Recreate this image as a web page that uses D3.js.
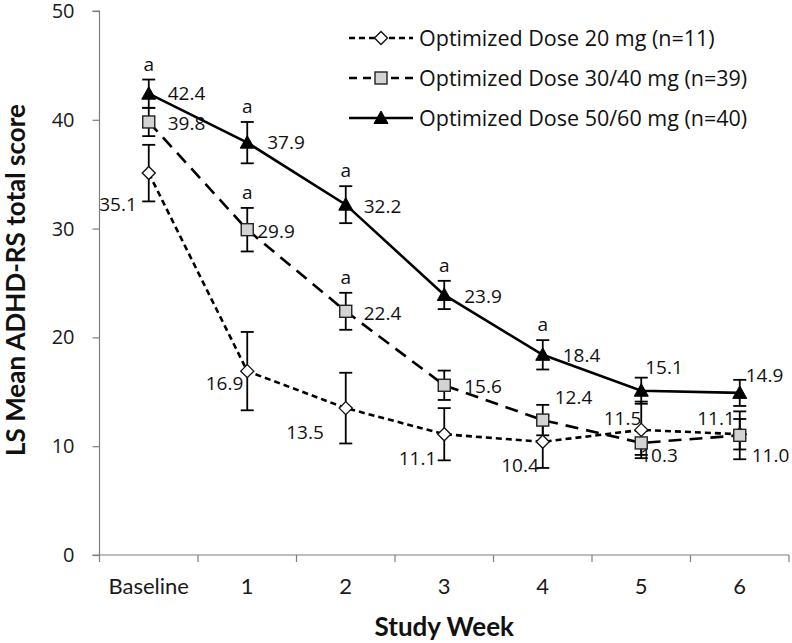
<!DOCTYPE html>
<html>
<head>
<meta charset="utf-8">
<script src="https://cdn.jsdelivr.net/npm/d3@7"></script>
<style>
  html, body { margin: 0; padding: 0; background: #fff; }
  svg { display: block; }
</style>
</head>
<body>
<div id="chart"></div>
<script>
// ---------------- data ----------------
const categories = ["Baseline", "1", "2", "3", "4", "5", "6"];
const yTicks = [0, 10, 20, 30, 40, 50];
const seriesNames = [
  "Optimized Dose 20 mg (n=11)",
  "Optimized Dose 30/40 mg (n=39)",
  "Optimized Dose 50/60 mg (n=40)"
];
const dose20 = [35.1, 16.9, 13.5, 11.1, 10.4, 11.5, 11.1];
const dose20SE = [2.6, 3.6, 3.25, 2.4, 2.4, 2.6, 1.4];
const dose3040 = [39.8, 29.9, 22.4, 15.6, 12.4, 10.3, 11.0];
const dose3040SE = [1.3, 2.0, 1.7, 1.35, 1.4, 1.1, 2.2];
const dose5060 = [42.4, 37.9, 32.2, 23.9, 18.4, 15.1, 14.9];
const dose5060SE = [1.3, 1.9, 1.7, 1.3, 1.35, 1.2, 1.2];
const sig3040 = ["", "a", "a", "", "", "", ""];
const sig5060 = ["a", "a", "a", "a", "a", "", ""];
const xTitle = "Study Week";
const yTitle = "LS Mean ADHD-RS total score";

// ---------------- layout / style ----------------
const W = 792, H = 643;
const plot = { left: 99.5, right: 789, top: 11, bottom: 555 };
const numFont = "'Open Sans', 'DejaVu Sans', sans-serif";
const calFont = "Lato, 'Open Sans', sans-serif";

// label placement offsets [dx, dy(center), anchor] per point
const place20 = [[-12, 31, "end"], [-4, 12, "end"], [-22, 24, "end"], [-8, 24, "end"], [-4, 23, "end"], [0, -12, "end"], [-5, -16, "end"]];
const place3040 = [[19, 1, "start"], [10, 1, "start"], [18, 2, "start"], [20, 1, "start"], [12, -23, "start"], [-1, 12, "start"], [12, 20, "start"]];
const place5060 = [[19, -1, "start"], [20, 0, "start"], [18, 1, "start"], [20, 1, "start"], [20, 0, "start"], [4, -24, "start"], [6, -18, "start"]];

const series = [
  { name: seriesNames[0], values: dose20, se: dose20SE, sig: null, place: place20, dash: "6,4", marker: "diamond" },
  { name: seriesNames[1], values: dose3040, se: dose3040SE, sig: sig3040, place: place3040, dash: "13,8", marker: "square" },
  { name: seriesNames[2], values: dose5060, se: dose5060SE, sig: sig5060, place: place5060, dash: null, marker: "triangle" }
];

const svg = d3.select("#chart").append("svg")
  .attr("width", W).attr("height", H)
  .attr("viewBox", `0 0 ${W} ${H}`);

const x = d3.scaleBand().domain(categories).range([plot.left, plot.right]).padding(0);
const y = d3.scaleLinear().domain([0, 50]).range([plot.bottom, plot.top]);
const cx = c => x(c) + x.bandwidth() / 2;

// ---------------- axes ----------------
const axisColor = "#7f7f7f";
const yAxis = svg.append("g")
  .attr("transform", `translate(${plot.left},0)`)
  .call(d3.axisLeft(y).tickValues(yTicks).tickSize(7).tickPadding(18).tickFormat(d3.format("d")));
yAxis.select(".domain").attr("stroke", axisColor).attr("stroke-width", 1.2).attr("d", `M-7,${plot.top}H0V${plot.bottom}H-7`);
yAxis.selectAll(".tick line").attr("stroke", axisColor).attr("stroke-width", 1.2);
yAxis.selectAll(".tick text")
  .attr("font-family", numFont).attr("font-size", 20).attr("fill", "#1a1a1a");

const xAxis = svg.append("g")
  .attr("transform", `translate(0,${plot.bottom})`);
xAxis.append("line")
  .attr("x1", plot.left).attr("x2", plot.right)
  .attr("stroke", axisColor).attr("stroke-width", 1.2);
const boundaries = categories.map(c => x(c)).concat([plot.right]);
xAxis.selectAll("line.tk").data(boundaries).join("line").attr("class", "tk")
  .attr("x1", d => d).attr("x2", d => d).attr("y1", 0).attr("y2", 7)
  .attr("stroke", axisColor).attr("stroke-width", 1.2);
xAxis.selectAll("text").data(categories).join("text")
  .attr("x", d => cx(d)).attr("y", 39)
  .attr("text-anchor", "middle")
  .attr("font-family", calFont).attr("font-size", 22).attr("fill", "#1a1a1a")
  .text(d => d);

svg.append("text")
  .attr("x", (plot.left + plot.right) / 2).attr("y", 636)
  .attr("text-anchor", "middle")
  .attr("font-family", calFont).attr("font-weight", "bold").attr("font-size", 26)
  .attr("fill", "#111")
  .text(xTitle);

svg.append("text")
  .attr("transform", `translate(25,280) rotate(-90)`)
  .attr("text-anchor", "middle")
  .attr("font-family", calFont).attr("font-weight", "bold").attr("font-size", 26)
  .attr("fill", "#111")
  .text(yTitle);

// ---------------- markers ----------------
function drawMarker(g, type, px, py) {
  if (type === "diamond") {
    g.append("path")
      .attr("d", `M${px},${py - 6.5}L${px + 6.5},${py}L${px},${py + 6.5}L${px - 6.5},${py}Z`)
      .attr("fill", "#fff").attr("stroke", "#111").attr("stroke-width", 1.4);
  } else if (type === "square") {
    g.append("rect")
      .attr("x", px - 6).attr("y", py - 6).attr("width", 12).attr("height", 12)
      .attr("fill", "#d3d3d3").attr("stroke", "#222").attr("stroke-width", 1.4);
  } else {
    g.append("path")
      .attr("d", `M${px},${py - 7}L${px + 7},${py + 5.5}L${px - 7},${py + 5.5}Z`)
      .attr("fill", "#000").attr("stroke", "#000").attr("stroke-width", 1);
  }
}

// ---------------- series ----------------
const line = d3.line().x((d, i) => cx(categories[i])).y(d => y(d));

series.forEach(s => {
  const g = svg.append("g");
  g.append("path")
    .attr("d", line(s.values))
    .attr("fill", "none").attr("stroke", "#000").attr("stroke-width", 2.6)
    .attr("stroke-dasharray", s.dash);
});

series.forEach(s => {
  const g = svg.append("g");
  s.values.forEach((v, i) => {
    const px = cx(categories[i]);
    const yt = y(v + s.se[i]), yb = y(v - s.se[i]);
    g.append("line").attr("x1", px).attr("x2", px).attr("y1", yt).attr("y2", yb)
      .attr("stroke", "#000").attr("stroke-width", 1.8);
    [yt, yb].forEach(yy => g.append("line")
      .attr("x1", px - 6.5).attr("x2", px + 6.5).attr("y1", yy).attr("y2", yy)
      .attr("stroke", "#000").attr("stroke-width", 1.8));
  });
});

series.forEach(s => {
  const g = svg.append("g");
  s.values.forEach((v, i) => drawMarker(g, s.marker, cx(categories[i]), y(v)));
});

// value labels
series.forEach(s => {
  const g = svg.append("g");
  s.values.forEach((v, i) => {
    const [dx, dy, anchor] = s.place[i];
    g.append("text")
      .attr("x", cx(categories[i]) + dx)
      .attr("y", y(v) + dy + 19 * 0.36)
      .attr("text-anchor", anchor)
      .attr("font-family", numFont).attr("font-size", 19).attr("fill", "#111")
      .text(d3.format(".1f")(v));
    if (s.sig && s.sig[i]) {
      g.append("text")
        .attr("x", cx(categories[i]))
        .attr("y", y(v + s.se[i]) - 9)
        .attr("text-anchor", "middle")
        .attr("font-family", numFont).attr("font-size", 19).attr("fill", "#111")
        .text(s.sig[i]);
    }
  });
});

// ---------------- legend ----------------
const legendRows = [38, 78, 118];
const leg = svg.append("g");
series.forEach((s, i) => {
  const ly = legendRows[i];
  leg.append("line")
    .attr("x1", 349).attr("x2", 413).attr("y1", ly).attr("y2", ly)
    .attr("stroke", "#000").attr("stroke-width", 2.6)
    .attr("stroke-dasharray", s.dash ? (s.marker === "diamond" ? "6,4" : "8,6") : null);
  drawMarker(leg, s.marker, 381, ly);
  leg.append("text")
    .attr("x", 419).attr("y", ly + 21.5 * 0.36)
    .attr("font-family", numFont).attr("font-size", 21.5).attr("fill", "#111")
    .text(s.name);
});
</script>
</body>
</html>
